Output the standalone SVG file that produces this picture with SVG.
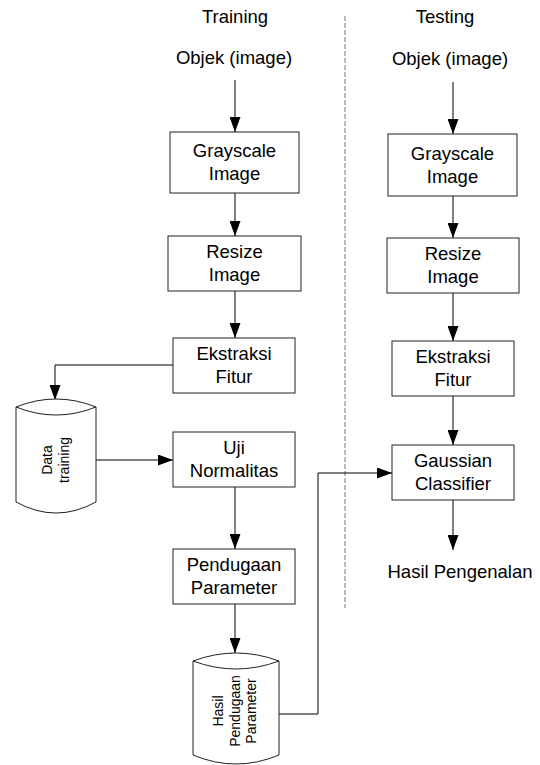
<svg xmlns="http://www.w3.org/2000/svg" width="540" height="765" viewBox="0 0 540 765">
<defs>
<marker id="ah" markerUnits="userSpaceOnUse" markerWidth="15" markerHeight="11" refX="15" refY="5.5" orient="auto">
<path d="M0,0 L15,5.5 L0,11 z" fill="#000"/>
</marker>
<style>
text{font-family:"Liberation Sans",Arial,sans-serif;fill:#000}
.t{font-size:18.5px;text-anchor:middle}
.r{font-size:14px;text-anchor:middle}
.box{fill:#fff;stroke:#222;stroke-width:1}
.cyl{fill:#fff;stroke:#222;stroke-width:1}
.ln{fill:none;stroke:#222;stroke-width:1}
.c{fill:none;stroke:#000;stroke-width:1;marker-end:url(#ah)}
</style>
</defs>
<rect width="540" height="765" fill="#fff"/>

<g id="labels">
<text class="t" x="235" y="23">Training</text>
<text class="t" x="234" y="64">Objek (image)</text>
<text class="t" x="445" y="23">Testing</text>
<text class="t" x="450" y="65">Objek (image)</text>
<text class="t" x="460" y="578">Hasil Pengenalan</text>
</g>

<line x1="345" y1="16" x2="345" y2="608" stroke="#777" stroke-width="1" stroke-dasharray="5 2"/>

<g id="connectors">
<line class="c" x1="235" y1="80" x2="235" y2="132"/>
<line class="c" x1="235" y1="193" x2="235" y2="236"/>
<line class="c" x1="235" y1="291" x2="235" y2="338"/>
<polyline class="c" points="173,365 55,365 55,400"/>
<line class="c" x1="96" y1="460" x2="173" y2="460"/>
<line class="c" x1="235" y1="487" x2="235" y2="549"/>
<line class="c" x1="235" y1="604" x2="235" y2="653"/>
<polyline class="c" points="279,714 318,714 318,473 392,473"/>
<line class="c" x1="453" y1="82" x2="453" y2="134"/>
<line class="c" x1="453" y1="196" x2="453" y2="238"/>
<line class="c" x1="453" y1="293" x2="453" y2="341"/>
<line class="c" x1="453" y1="396" x2="453" y2="445"/>
<line class="c" x1="453" y1="500" x2="453" y2="550"/>
</g>

<g id="tr-gray">
<rect class="box" x="170" y="132" width="129" height="61"/>
<text class="t" x="234.5" y="157">Grayscale</text>
<text class="t" x="234.5" y="180">Image</text>
</g>
<g id="tr-resize">
<rect class="box" x="168" y="236" width="133" height="55"/>
<text class="t" x="234.5" y="258">Resize</text>
<text class="t" x="234.5" y="281">Image</text>
</g>
<g id="tr-ekstraksi">
<rect class="box" x="173" y="338" width="122" height="55"/>
<text class="t" x="234" y="360">Ekstraksi</text>
<text class="t" x="234" y="383">Fitur</text>
</g>
<g id="tr-uji">
<rect class="box" x="173" y="432" width="122" height="55"/>
<text class="t" x="234" y="454">Uji</text>
<text class="t" x="234" y="477">Normalitas</text>
</g>
<g id="tr-pendugaan">
<rect class="box" x="173" y="549" width="122" height="55"/>
<text class="t" x="234" y="571">Pendugaan</text>
<text class="t" x="234" y="594">Parameter</text>
</g>

<g id="data-training">
<path class="cyl" d="M16,407 Q56,391 96,407 L96,502 Q56,524 16,502 Z"/>
<path class="ln" d="M16,407 Q56,423 96,407"/>
<g transform="translate(55,460) rotate(-90)">
<text class="r" x="0" y="-3">Data</text>
<text class="r" x="0" y="14">training</text>
</g>
</g>

<g id="hasil-pendugaan">
<path class="cyl" d="M193,661 Q236,645 279,661 L279,755 Q236,773 193,755 Z"/>
<path class="ln" d="M193,661 Q236,677 279,661"/>
<g transform="translate(236,711) rotate(-90)">
<text class="r" x="0" y="-13">Hasil</text>
<text class="r" x="0" y="4">Pendugaan</text>
<text class="r" x="0" y="20">Parameter</text>
</g>
</g>

<g id="te-gray">
<rect class="box" x="388" y="134" width="129" height="62"/>
<text class="t" x="452.5" y="160">Grayscale</text>
<text class="t" x="452.5" y="183">Image</text>
</g>
<g id="te-resize">
<rect class="box" x="387" y="238" width="132" height="55"/>
<text class="t" x="453" y="260">Resize</text>
<text class="t" x="453" y="283">Image</text>
</g>
<g id="te-ekstraksi">
<rect class="box" x="392" y="341" width="122" height="55"/>
<text class="t" x="453" y="363">Ekstraksi</text>
<text class="t" x="453" y="386">Fitur</text>
</g>
<g id="te-gaussian">
<rect class="box" x="392" y="445" width="122" height="55"/>
<text class="t" x="453" y="467">Gaussian</text>
<text class="t" x="453" y="490">Classifier</text>
</g>
</svg>
